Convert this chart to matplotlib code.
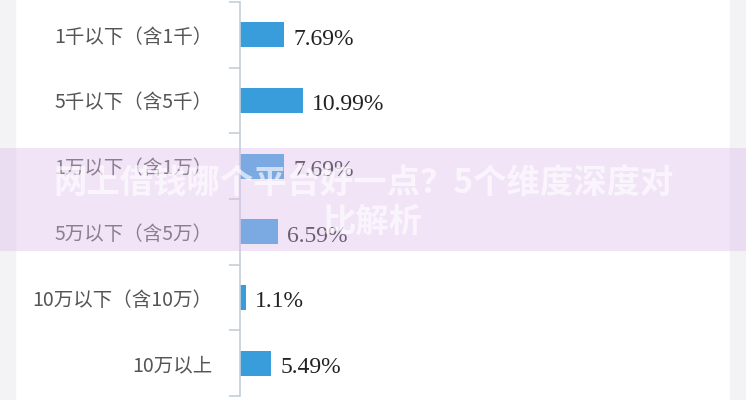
import matplotlib
matplotlib.use("Agg")
import matplotlib.pyplot as plt
from matplotlib.patches import Rectangle
import numpy as np

plt.rcParams['font.family'] = ['Noto Sans CJK SC', 'DejaVu Sans']

categories = ["1千以下（含1千）", "5千以下（含5千）", "1万以下（含1万）",
              "5万以下（含5万）", "10万以下（含10万）", "10万以上"]
values = [7.69, 10.99, 7.69, 6.59, 1.1, 5.49]
value_labels = ["7.69%", "10.99%", "7.69%", "6.59%", "1.1%", "5.49%"]
overlay_title = ["网上借钱哪个平台好一点？5个维度深度对", "比解析"]

W, H = 746, 400
fig = plt.figure(figsize=(W / 100, H / 100), dpi=100)
fig.patch.set_facecolor('white')

# light gray side margins
fig.patches.append(Rectangle((0, 0), 15 / W, 1, transform=fig.transFigure,
                             color='#f3f3f5', zorder=0))
fig.patches.append(Rectangle((730 / W, 0), 16 / W, 1, transform=fig.transFigure,
                             color='#f3f3f5', zorder=0))

ax = fig.add_axes([240 / W, 4 / H, 490 / W, 394 / H])
ax.patch.set_alpha(0)

y = np.arange(len(categories))
ax.barh(y, values, height=0.38, color='#3a9ddb', zorder=2)
ax.set_xlim(0, 85.5)
ax.set_ylim(len(categories) - 0.5, -0.5)

for yi, v, lab in zip(y, values, value_labels):
    ax.annotate(lab, (v, yi), xytext=(6.5, -3), textcoords='offset points',
                ha='left', va='center', fontsize=17, color='#222222',
                family='Liberation Serif')

ax.set_yticks(y)
ax.set_yticklabels(categories, fontsize=14, color='#555555')
ax.tick_params(axis='y', which='major', length=0, pad=20)
ax.set_yticks(np.arange(-0.5, len(categories) + 0.5, 1), minor=True)
ax.tick_params(axis='y', which='minor', length=8, width=1.2, color='#c5ced8')
ax.set_xticks([])
for s in ['top', 'right', 'bottom']:
    ax.spines[s].set_visible(False)
ax.spines['left'].set_color('#c5ced8')
ax.spines['left'].set_linewidth(1.2)

# translucent overlay band with title text
fig.patches.append(Rectangle((0, (400 - 251) / H), 1, 103 / H, transform=fig.transFigure,
                             facecolor=(0.87, 0.74, 0.92), alpha=0.4, zorder=10))
fig.text(364 / W, 1 - 183 / H, overlay_title[0], ha='center', va='center',
         fontsize=24, fontweight='bold', color='white', alpha=0.65, zorder=11)
fig.text(372 / W, 1 - 222 / H, overlay_title[1], ha='center', va='center',
         fontsize=24, fontweight='bold', color='white', alpha=0.65, zorder=11)

fig.savefig('out.png', dpi=100)
